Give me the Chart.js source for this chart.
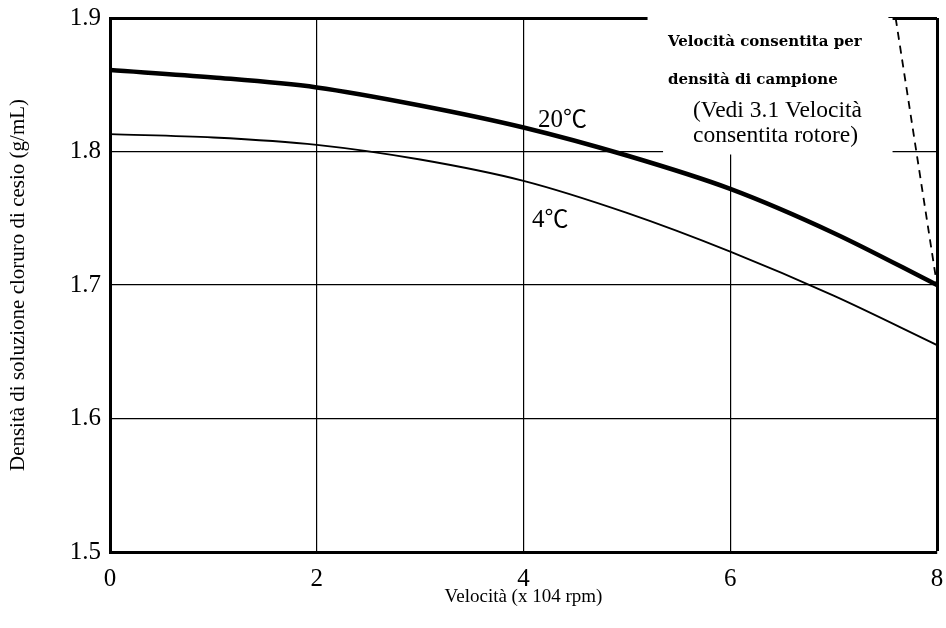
<!DOCTYPE html>
<html>
<head>
<meta charset="utf-8">
<script src="https://cdn.jsdelivr.net/npm/chart.js@4.4.1/dist/chart.umd.min.js"></script>
<style>
  html, body { margin: 0; padding: 0; background: #fff; }
  #wrap { position: relative; width: 946px; height: 628px; }
</style>
</head>
<body>
<div id="wrap"><canvas id="densityChart"></canvas></div>
<script>
// speed in x 10^4 rpm
const speeds = [0, 1, 2, 3, 4, 5, 6, 7, 8];
// CsCl solution density (g/mL)
const density20 = [1.861, 1.8555, 1.848, 1.8345, 1.818, 1.797, 1.772, 1.739, 1.700];
const density4 = [1.813, 1.8105, 1.805, 1.794, 1.778, 1.754, 1.725, 1.692, 1.655];
// dashed limit line (allowed speed by sample density)
const limitSpeed = [7.6, 8];
const limitDensity = [1.9, 1.70];

function pts(xs, ys) {
  return xs.map(function (x, i) { return { x: x, y: ys[i] }; });
}

const serif = '"Liberation Serif", "DejaVu Serif", serif';

// white box behind the top-right note, hides the grid there
const noteMask = {
  id: 'noteMask',
  beforeDatasetsDraw(chart) {
    const c = chart.ctx, x = chart.scales.x, y = chart.scales.y;
    const top = y.getPixelForValue(1.9), mid = y.getPixelForValue(1.8);
    c.save();
    c.fillStyle = '#fff';
    let x0 = x.getPixelForValue(5.2), x1 = x.getPixelForValue(7.53);
    c.fillRect(x0, top - 4, x1 - x0, 10);
    x0 = x.getPixelForValue(5.35);
    x1 = x.getPixelForValue(7.57);
    c.fillRect(x0, top, x1 - x0, mid - top + 3);
    c.restore();
  },
  afterDraw(chart) {
    const c = chart.ctx;
    c.save();
    c.fillStyle = '#000';
    c.textBaseline = 'alphabetic';
    c.font = 'bold 15px "DejaVu Serif", serif';
    c.fillText('Velocità consentita per', 668, 46, 196);
    c.fillText('densità di campione', 668, 84, 176);
    c.font = '23.5px ' + serif;
    c.fillText('(Vedi 3.1 Velocità', 693, 117);
    c.fillText('consentita rotore)', 693, 142);
    // temperature labels: digits serif, degree sign CJK full width
    const temp = function (num, x, yb) {
      c.font = '25px ' + serif;
      c.fillText(num, x, yb);
      const w = c.measureText(num).width;
      c.font = '24px "Noto Sans CJK JP", sans-serif';
      c.fillText('℃', x + w, yb);
    };
    temp('20', 538, 127);
    temp('4', 532, 227);
    c.restore();
  }
};

const edge = function (w) {
  return function (ctx) {
    const v = ctx.tick ? ctx.tick.value : 0;
    return (Math.abs(v - 1.9) < 1e-6 || Math.abs(v - 8) < 1e-6) ? 3 : w;
  };
};

new Chart(document.getElementById('densityChart'), {
  type: 'line',
  data: {
    datasets: [
      {
        label: '20℃',
        data: pts(speeds, density20),
        borderColor: '#000',
        borderWidth: 4.5,
        pointRadius: 0,
        cubicInterpolationMode: 'monotone',
        fill: false
      },
      {
        label: '4℃',
        data: pts(speeds, density4),
        borderColor: '#000',
        borderWidth: 1.8,
        pointRadius: 0,
        cubicInterpolationMode: 'monotone',
        fill: false
      },
      {
        label: 'limite',
        data: pts(limitSpeed, limitDensity),
        borderColor: '#000',
        borderWidth: 1.8,
        borderDash: [8, 6],
        pointRadius: 0,
        fill: false
      }
    ]
  },
  options: {
    responsive: true,
    maintainAspectRatio: false,
    animation: false,
    layout: { padding: { left: 0, top: 18, right: 9, bottom: 0 } },
    plugins: {
      legend: { display: false },
      tooltip: { enabled: false }
    },
    scales: {
      x: {
        type: 'linear',
        min: 0,
        max: 8,
        afterFit: function (s) {
          s.height = 76;
          s.paddingLeft = 0;
          s.paddingRight = 0;
        },
        ticks: { stepSize: 2, color: '#000', padding: 12, font: { family: serif, size: 25 } },
        grid: { color: '#000', lineWidth: edge(1.2), drawTicks: false },
        border: { color: '#000', width: 3 },
        title: {
          display: true,
          text: 'Velocità (x 104 rpm)',
          color: '#000',
          font: { family: serif, size: 19 },
          padding: { top: 20, bottom: 20 }
        }
      },
      y: {
        min: 1.5,
        max: 1.9,
        afterFit: function (s) {
          s.width = 110;
          s.paddingTop = 0;
          s.paddingBottom = 0;
        },
        ticks: {
          stepSize: 0.1,
          color: '#000',
          padding: 9,
          font: { family: serif, size: 25 },
          callback: function (v) { return v.toFixed(1); }
        },
        grid: { color: '#000', lineWidth: edge(1.2), drawTicks: false },
        border: { color: '#000', width: 3 },
        title: {
          display: true,
          text: 'Densità di soluzione cloruro di cesio (g/mL)',
          color: '#000',
          font: { family: serif, size: 21 },
          padding: { top: 6, bottom: 6 }
        }
      }
    }
  },
  plugins: [noteMask]
});
</script>
</body>
</html>
